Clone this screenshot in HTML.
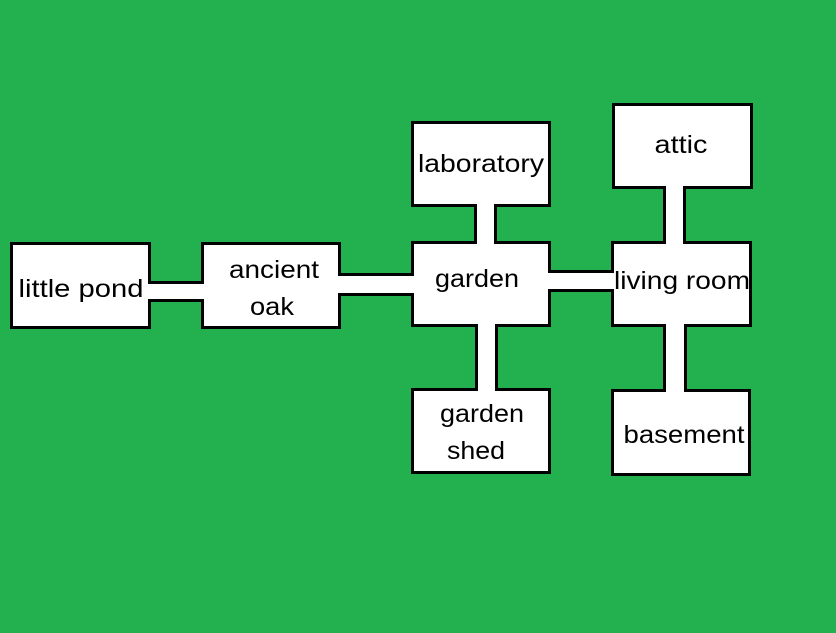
<!DOCTYPE html>
<html><head><meta charset="utf-8"><style>
html,body{margin:0;padding:0;background:#23b04e;}
svg{display:block}
text{font-family:"Liberation Sans",sans-serif;font-size:25px;fill:#000;text-anchor:middle}
</style></head><body>
<svg width="836" height="633" viewBox="0 0 836 633">
<rect width="836" height="633" fill="#23b04e"/>
<g stroke="#000" stroke-width="6" fill="#000">
<rect x="13" y="245" width="135" height="81"/>
<rect x="148" y="284" width="56" height="15"/>
<rect x="204" y="245" width="134" height="81"/>
<rect x="338" y="276" width="76" height="17"/>
<rect x="414" y="244" width="134" height="80"/>
<rect x="414" y="124" width="134" height="80"/>
<rect x="477" y="204" width="17" height="40"/>
<rect x="414" y="391" width="134" height="80"/>
<rect x="478" y="324" width="17" height="67"/>
<rect x="548" y="273" width="66" height="16"/>
<rect x="614" y="244" width="135" height="80"/>
<rect x="615" y="106" width="135" height="80"/>
<rect x="666" y="186" width="17" height="58"/>
<rect x="614" y="392" width="134" height="81"/>
<rect x="666" y="324" width="18" height="68"/>
</g>
<g fill="#fff">
<rect x="13" y="245" width="135" height="81"/>
<rect x="148" y="284" width="56" height="15"/>
<rect x="204" y="245" width="134" height="81"/>
<rect x="338" y="276" width="76" height="17"/>
<rect x="414" y="244" width="134" height="80"/>
<rect x="414" y="124" width="134" height="80"/>
<rect x="477" y="204" width="17" height="40"/>
<rect x="414" y="391" width="134" height="80"/>
<rect x="478" y="324" width="17" height="67"/>
<rect x="548" y="273" width="66" height="16"/>
<rect x="614" y="244" width="135" height="80"/>
<rect x="615" y="106" width="135" height="80"/>
<rect x="666" y="186" width="17" height="58"/>
<rect x="614" y="392" width="134" height="81"/>
<rect x="666" y="324" width="18" height="68"/>
</g>
<text x="81" y="297" textLength="125" lengthAdjust="spacingAndGlyphs">little pond</text>
<text x="274" y="278" textLength="90" lengthAdjust="spacingAndGlyphs">ancient</text>
<text x="272" y="315" textLength="44" lengthAdjust="spacingAndGlyphs">oak</text>
<text x="477" y="287" textLength="84" lengthAdjust="spacingAndGlyphs">garden</text>
<text x="481" y="172" textLength="126" lengthAdjust="spacingAndGlyphs">laboratory</text>
<text x="681" y="153" textLength="53" lengthAdjust="spacingAndGlyphs">attic</text>
<text x="682" y="289" textLength="136" lengthAdjust="spacingAndGlyphs">living room</text>
<text x="482" y="422" textLength="84" lengthAdjust="spacingAndGlyphs">garden</text>
<text x="476" y="459" textLength="58" lengthAdjust="spacingAndGlyphs">shed</text>
<text x="684" y="443" textLength="121" lengthAdjust="spacingAndGlyphs">basement</text>
</svg>
</body></html>
